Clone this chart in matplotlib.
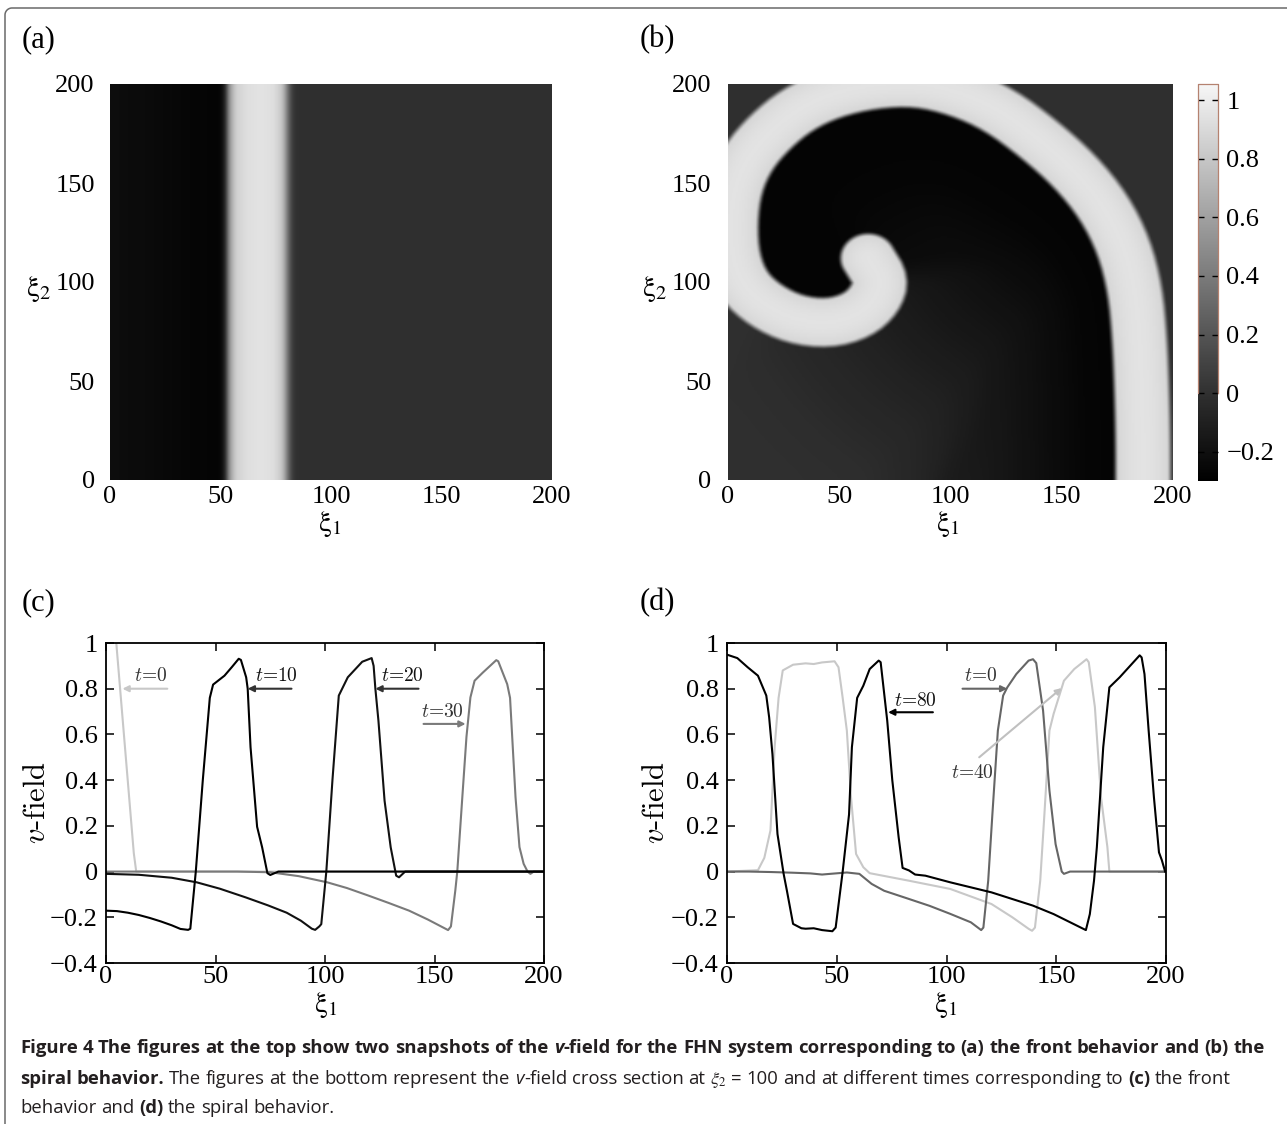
import numpy as np
import matplotlib
matplotlib.use("Agg")
import matplotlib.pyplot as plt
from matplotlib.colors import LinearSegmentedColormap, Normalize
from matplotlib.lines import Line2D
import matplotlib.transforms as mtransforms

# ------------------------------------------------------------------ data
# panel (a): v profile across xi1 (front is a straight vertical band)
a_xi1 = [0, 15, 30, 45, 50, 52, 54, 57, 62, 68, 74, 78, 80, 82, 84, 200]
a_v = [-0.21, -0.23, -0.25, -0.27, -0.27, -0.1, 0.55, 0.85, 0.93, 0.95, 0.93, 0.8, 0.45, 0.1, 0.0, 0.0]

# panel (b): centre line of the excited spiral band (tip -> outer arm)
b_xi1 = [63, 69, 66, 58, 45, 30, 17, 7, 2, 1, 3, 9, 19, 31, 46, 65, 85, 104, 122, 140,
         156, 169, 178, 183, 185, 186, 186.5, 186.5]
b_xi2 = [112, 101, 91, 83, 79, 81, 88, 98, 112, 130, 148, 163, 176, 187, 195, 200, 201,
         196, 187, 172, 156, 138, 118, 96, 72, 45, 20, -5]
# recovery length scale behind each part of the band
b_stretch = [3, 3, 3, 3, 3, 3, 3, 3, 3, 3, 3, 3, 3, 3, 3, 2.8, 2.6, 2.4, 2.2, 2.0,
             1.7, 1.4, 1.2, 1.0, 1.0, 1.0, 1.0, 1.0]
b_halfwidth = 12.3
b_peak = 0.95
# recovery of v behind the wave (distance behind band -> v)
rec_d = [0, 10, 25, 40, 55, 70, 85, 100, 115, 130]
rec_v = [-0.27, -0.27, -0.23, -0.19, -0.15, -0.11, -0.07, -0.04, -0.01, 0.0]

# panel (c): v-field cross sections, front behaviour
c_t0_x = [4.2, 4.7, 12.7, 13.8, 200]
c_t0_v = [1.06, 1.0, 0.08, 0.0, 0.0]
c_t10_x = [0, 5, 10, 15, 20, 25, 30, 34, 37.5, 38.5, 41, 44.2, 47.4, 48.9, 54.1, 57.5, 60.6,
           61.6, 64, 64.7, 66, 69, 71.3, 73.7, 75, 78.7, 200]
c_t10_v = [-0.171, -0.173, -0.18, -0.19, -0.203, -0.218, -0.235, -0.251, -0.255, -0.25, 0.0,
           0.4, 0.76, 0.818, 0.857, 0.895, 0.931, 0.926, 0.85, 0.8, 0.544, 0.196, 0.106,
           -0.007, -0.015, 0.0, 0.0]
c_t20_x = [0, 15, 30, 41.4, 52, 63.8, 74, 82.5, 89, 94, 95.5, 97.4, 98.3, 100.6, 103.4, 106.3,
           110.4, 117, 121.3, 122.2, 123, 124.4, 127.2, 130, 132.5, 133.8, 136.6, 200]
c_t20_v = [-0.01, -0.014, -0.027, -0.047, -0.075, -0.113, -0.148, -0.18, -0.215, -0.25, -0.255,
           -0.24, -0.23, 0.0, 0.4, 0.77, 0.85, 0.918, 0.934, 0.9, 0.8, 0.66, 0.31, 0.106,
           -0.018, -0.025, 0.0, 0.0]
c_t30_x = [0, 60, 75, 88, 101, 110, 119.8, 129, 138.4, 147, 156.2, 157.5, 159.5, 160.4, 162.7,
           164.6, 166.4, 168.3, 172, 178.2, 179.1, 183.2, 184.5, 187, 188.8, 190.7, 192.5,
           193.8, 195.3, 200]
c_t30_v = [0.0, 0.0, -0.003, -0.02, -0.047, -0.072, -0.105, -0.137, -0.171, -0.21, -0.256,
           -0.24, -0.083, 0.0, 0.325, 0.59, 0.762, 0.835, 0.87, 0.925, 0.92, 0.82, 0.76,
           0.325, 0.107, 0.034, 0.0, -0.01, 0.0, 0.0]

# panel (d): v-field cross sections, spiral behaviour
d_t80_x = [0, 4.7, 9.4, 14.1, 17.9, 19.2, 20.7, 23, 25.8, 27.3, 30.1, 33.9, 35.8, 39.5, 43.3,
           48, 49.5, 52.7, 55.6, 56.9, 59.3, 62.1, 65, 69.1, 70, 73, 75.3, 78.2, 80, 82.9,
           85.7, 90.4, 101.7, 120.5, 139.4, 148.8, 163.5, 165.3, 167.2, 168.5, 171.4, 174.2,
           178.9, 188, 188.9, 190.2, 192.1, 194.5, 196.8, 198.1, 199.6]
d_t80_v = [0.949, 0.934, 0.894, 0.857, 0.77, 0.675, 0.514, 0.164, -0.01, -0.084, -0.229,
           -0.248, -0.25, -0.248, -0.256, -0.261, -0.245, 0.0, 0.25, 0.544, 0.76, 0.813,
           0.886, 0.923, 0.916, 0.66, 0.40, 0.15, 0.016, 0.005, -0.013, -0.018, -0.047,
           -0.091, -0.149, -0.186, -0.256, -0.186, -0.04, 0.107, 0.544, 0.806, 0.85, 0.946,
           0.937, 0.864, 0.616, 0.325, 0.084, 0.05, 0.0]
d_t0_x = [0, 10, 20, 30, 38, 43.3, 47, 54.6, 60.3, 65.9, 71.6, 82, 92.3, 101.7, 111.1, 115.8,
          116.8, 119, 120.9, 123.4, 125.8, 127.7, 131.8, 137.4, 139.4, 140.9, 144, 146.9,
          149.7, 152.5, 153.5, 156.3, 200]
d_t0_v = [0.0, 0.0, -0.002, -0.005, -0.008, -0.013, -0.01, -0.004, -0.01, -0.054, -0.084,
          -0.117, -0.15, -0.185, -0.222, -0.256, -0.245, -0.04, 0.25, 0.617, 0.77, 0.806,
          0.864, 0.923, 0.929, 0.912, 0.704, 0.354, 0.12, 0.0, -0.01, 0.0, 0.0]
d_t40_x = [0, 14.1, 17, 19.8, 21.7, 23.5, 25.4, 30.1, 35.8, 39.5, 43.3, 49, 50.8, 52.7, 54.6,
           56.5, 58.8, 62.1, 65, 82.9, 101.7, 120.5, 130, 137.5, 139, 140.3, 142.7, 144.6,
           146.9, 148.8, 153.5, 158.2, 163.8, 164.8, 167.6, 170.4, 173.3, 174.2, 200]
d_t40_v = [0.0, 0.006, 0.06, 0.18, 0.544, 0.76, 0.88, 0.905, 0.911, 0.908, 0.915, 0.92,
           0.894, 0.76, 0.617, 0.325, 0.077, 0.019, -0.007, -0.04, -0.076, -0.142, -0.2,
           -0.251, -0.259, -0.245, -0.04, 0.25, 0.617, 0.69, 0.835, 0.886, 0.929, 0.916,
           0.72, 0.325, 0.107, 0.0, 0.0]

xy_ticks = [0, 50, 100, 150, 200]
v_ticks = [-0.4, -0.2, 0, 0.2, 0.4, 0.6, 0.8, 1]
v_ticklabels = ["\u22120.4", "\u22120.2", "0", "0.2", "0.4", "0.6", "0.8", "1"]
cb_ticks = [-0.2, 0, 0.2, 0.4, 0.6, 0.8, 1]
cb_ticklabels = ["\u22120.2", "0", "0.2", "0.4", "0.6", "0.8", "1"]
cb_range = (-0.3, 1.055)

# ------------------------------------------------------------------ setup
plt.rcParams["font.family"] = ["Liberation Serif", "DejaVu Serif"]
plt.rcParams["mathtext.fontset"] = "stix"
plt.rcParams["axes.unicode_minus"] = True

W, H = 1287, 1124
fig = plt.figure(figsize=(W / 100, H / 100), dpi=100)
fig.patch.set_facecolor("white")


def fx(px):
    return px / W


def fy(py):
    return 1 - py / H


def gblur(A, sig):
    r = int(3 * sig) + 1
    k = np.exp(-0.5 * (np.arange(-r, r + 1) / sig) ** 2)
    k /= k.sum()
    n0, n1 = A.shape
    P = np.pad(A, r, mode="edge")
    T = np.zeros((n0 + 2 * r, n1))
    for i, kv in enumerate(k):
        T += kv * P[:, i:i + n1]
    O = np.zeros((n0, n1))
    for i, kv in enumerate(k):
        O += kv * T[i:i + n0, :]
    return O


def chaikin(P, it=2):
    for _ in range(it):
        Q = [P[0]]
        for i in range(len(P) - 1):
            Q.append(0.75 * P[i] + 0.25 * P[i + 1])
            Q.append(0.25 * P[i] + 0.75 * P[i + 1])
        Q.append(P[-1])
        P = np.array(Q)
    return P


cmap = LinearSegmentedColormap.from_list(
    "vgray", [(0.0, "#000000"), (0.2214, "#303030"), (1.0, "#f6f6f6")])
norm = Normalize(vmin=cb_range[0], vmax=cb_range[1])

# ------------------------------------------------------------------ fields
n = 300
g = (np.arange(n) + 0.5) * 200.0 / n
upp = 200.0 / n  # units per pixel

# (a)
prof = np.interp(g, a_xi1, a_v)
field_a = gblur(np.tile(prof, (n, 1)), 0.8 / upp)

# (b)
X, Y = np.meshgrid(g, g)
Xf, Yf = X.ravel(), Y.ravel()
raw = np.column_stack([b_xi1, b_xi2, b_stretch, np.arange(len(b_xi1))]).astype(float)
sm = chaikin(raw, 2)
pts = sm[:, :2]
stv = sm[:, 2]
uix = sm[:, 3]
nseg = len(pts) - 1
seg_u = 0.5 * (uix[:-1] + uix[1:])
dmin = np.full(Xf.shape, np.inf)
side = np.zeros(Xf.shape)
segi = np.zeros(Xf.shape, int)
bp, bs, bu = [], [], []
for i in range(nseg):
    a = pts[i]
    b = pts[i + 1]
    dv = b - a
    L2 = dv @ dv
    L = np.sqrt(L2)
    t = ((Xf - a[0]) * dv[0] + (Yf - a[1]) * dv[1]) / L2
    tc = np.clip(t, 0, 1)
    dist = np.hypot(Xf - (a[0] + tc * dv[0]), Yf - (a[1] + tc * dv[1]))
    cr = dv[0] * (Yf - a[1]) - dv[1] * (Xf - a[0])
    upd = dist < dmin
    dmin = np.where(upd, dist, dmin)
    side = np.where(upd, cr, side)
    segi = np.where(upd, i, segi)
    nrm = np.array([dv[1], -dv[0]]) / L
    m = max(1, int(np.ceil(L)))
    for s in np.linspace(0, 1, m, endpoint=False):
        bp.append(a + s * dv + b_halfwidth * nrm)
        bs.append(stv[i] * (1 - s) + stv[i + 1] * s)
        bu.append(seg_u[i])
bp = np.array(bp)
bs = np.array(bs)
bu = np.array(bu)
masks = {"all": np.ones(len(bu), bool), "arm": bu >= 21, "out": bu >= 12, "in": bu <= 18}
N = Xf.size
deff = {k: np.empty(N) for k in masks}
CH = 3000
for c0 in range(0, N, CH):
    D = np.hypot(Xf[c0:c0 + CH, None] - bp[None, :, 0], Yf[c0:c0 + CH, None] - bp[None, :, 1])
    D = D / bs[None, :]
    for k, mk_ in masks.items():
        deff[k][c0:c0 + CH] = D[:, mk_].min(1)
rv = {k: np.interp(v, rec_d, rec_v) for k, v in deff.items()}
su = seg_u[segi]
back = side < 0
B = np.zeros(N)
B = np.where(back, np.where(su <= 5.5, rv["in"], np.where(su >= 18, rv["out"], rv["all"])), B)
tip_front = (~back) & (su < 1.0)
hook_front = (~back) & (su >= 1.0) & (su <= 5.5)
B = np.where(hook_front, rv["arm"], B)
B = np.where(tip_front, rv["out"], B)
B = gblur(B.reshape(n, n), 5.0 / upp)
dm = dmin.reshape(n, n)
alpha = np.clip((b_halfwidth + 1.6 - dm) / 3.2, 0, 1)
alpha = alpha * alpha * (3 - 2 * alpha)
vband = b_peak - 0.08 * np.clip(dm / b_halfwidth, 0, 1) ** 2
field_b = alpha * vband + (1 - alpha) * B

# ------------------------------------------------------------------ axes
ax_a = fig.add_axes([fx(110), fy(480), (552 - 110) / W, (480 - 84) / H])
ax_b = fig.add_axes([fx(728), fy(480), (1173 - 728) / W, (480 - 84) / H])
cax = fig.add_axes([fx(1198), fy(481), 20 / W, (481 - 84) / H])
ax_c = fig.add_axes([fx(106), fy(963), (544 - 106) / W, (963 - 643) / H])
ax_d = fig.add_axes([fx(727), fy(963), (1166 - 727) / W, (963 - 643) / H])

for ax, fld, ypad in [(ax_a, field_a, 11), (ax_b, field_b, 12)]:
    im = ax.imshow(fld, extent=[0, 200, 0, 200], origin="lower", cmap=cmap, norm=norm,
                   aspect="auto", interpolation="bilinear")
    ax.set_xlim(0, 200)
    ax.set_ylim(0, 200)
    ax.set_xticks(xy_ticks)
    ax.set_yticks(xy_ticks)
    ax.set_xticklabels([str(v) for v in xy_ticks])
    ax.set_yticklabels([str(v) for v in xy_ticks])
    for sp in ax.spines.values():
        sp.set_visible(False)
    ax.tick_params(axis="x", length=0, labelsize=19, pad=4)
    ax.tick_params(axis="y", length=0, labelsize=19, pad=ypad)
    im_last = im

cb = fig.colorbar(im_last, cax=cax, ticks=cb_ticks)
cb.ax.set_yticklabels(cb_ticklabels)
cb.outline.set_visible(False)
cax.tick_params(axis="y", which="both", direction="in", left=True, right=True, length=4,
                width=1, labelsize=19, pad=6, colors="black")
cax.minorticks_off()
btr = mtransforms.blended_transform_factory(cax.transAxes, cax.transData)
cax.add_line(Line2D([0, 0, 1, 1], [0, cb_range[1], cb_range[1], 0], transform=btr,
                    color="#b58270", lw=0.9, clip_on=False))

series_c = [(c_t0_x, c_t0_v, "#c8c8c8"), (c_t30_x, c_t30_v, "#7a7a7a"),
            (c_t20_x, c_t20_v, "#111111"), (c_t10_x, c_t10_v, "#000000")]
series_d = [(d_t40_x, d_t40_v, "#c8c8c8"), (d_t0_x, d_t0_v, "#666666"),
            (d_t80_x, d_t80_v, "#000000")]
for ax, series in [(ax_c, series_c), (ax_d, series_d)]:
    for xs, vs, col in series:
        ax.plot(xs, vs, color=col, lw=1.5)
    ax.set_xlim(0, 200)
    ax.set_ylim(-0.4, 1.0)
    ax.set_xticks(xy_ticks)
    ax.set_xticklabels([str(v) for v in xy_ticks])
    ax.set_yticks(v_ticks)
    ax.set_yticklabels(v_ticklabels)
    ax.tick_params(direction="in", top=True, right=True, length=6, width=1.1,
                   labelsize=19)
    ax.tick_params(axis="x", pad=2)
    ax.tick_params(axis="y", pad=6)
    for sp in ax.spines.values():
        sp.set_linewidth(1.3)


def tag(ax, label, tx, tv, tail, head, acol, tcol):
    ax.annotate("", xy=head, xytext=tail,
                arrowprops=dict(arrowstyle="-|>", color=acol, lw=1.5, mutation_scale=9,
                                shrinkA=0, shrinkB=0))
    ax.text(tx, tv, label, ha="center", va="center", fontsize=14, color=tcol,
            family="cmr10", math_fontfamily="cm")


tag(ax_c, r"$t$=0", 20.5, 0.855, (28, 0.8), (7.5, 0.8), "#c8c8c8", "#333333")
tag(ax_c, r"$t$=10", 78.0, 0.855, (84.7, 0.8), (64.7, 0.8), "#333333", "#111111")
tag(ax_c, r"$t$=20", 135.5, 0.855, (142.7, 0.8), (123.0, 0.8), "#333333", "#111111")
tag(ax_c, r"$t$=30", 153.5, 0.70, (145.0, 0.646), (164.2, 0.646), "#7a7a7a", "#333333")
tag(ax_d, r"$t$=80", 85.8, 0.745, (93.8, 0.697), (73.4, 0.697), "#000000", "#111111")
tag(ax_d, r"$t$=0", 115.5, 0.855, (107.3, 0.8), (127.7, 0.8), "#666666", "#333333")
tag(ax_d, r"$t$=40", 111.8, 0.43, (114.9, 0.5), (152.5, 0.803), "#c0c0c0", "#333333")

# ------------------------------------------------------------------ labels
for lab, x, y in [("(a)", 22, 40), ("(b)", 640, 40), ("(c)", 22, 603), ("(d)", 640, 603)]:
    fig.text(fx(x), fy(y), lab, fontsize=22, ha="left", va="center")

xi1 = r"$\mathrm{\xi}_1$"
xi2 = r"$\mathrm{\xi}_2$"
for x, y in [(330, 524), (948, 524), (326, 1005), (946, 1005)]:
    fig.text(fx(x), fy(y), xi1, fontsize=21, ha="center", va="center")
for x, y in [(38, 289), (654, 289)]:
    fig.text(fx(x), fy(y), xi2, fontsize=21, ha="center", va="center")
for x, y in [(37, 803), (656, 803)]:
    fig.text(fx(x), fy(y), r"$v$-field", fontsize=22, ha="center", va="center",
             rotation=90, family="cmr10", math_fontfamily="cm")

# ------------------------------------------------------------------ frame
r = 7.0
th = np.linspace(np.pi, np.pi / 2, 20)
fxs = [5, 5] + list(5 + r + r * np.cos(th)) + [1300]
fys = [1130, 8 + r] + list(8 + r - r * np.sin(th)) + [8]
fig.add_artist(Line2D([fx(v) for v in fxs], [fy(v) for v in fys], transform=fig.transFigure,
                      color="#6a6a6a", lw=1.1))

# ------------------------------------------------------------------ caption
CAP_FONT = ["Liberation Sans Narrow", "Open Sans", "DejaVu Sans"]
CAP_COL = "#231f20"
renderer = fig.canvas.get_renderer()


def words(s, bold=False, ital=False):
    return [(w, bold, ital, False) for w in s.split()]


line1 = (words("Figure 4 The figures at the top show two snapshots of the", True)
         + [("v", True, True, False), ("-field", True, False, True)]
         + words("for the FHN system corresponding to (a) the front behavior and (b) the", True))
line2 = (words("spiral behavior.", True)
         + words("The figures at the bottom represent the")
         + [("v", False, True, False), ("-field", False, False, True)]
         + words("cross section at") + [(r"$\xi_2$", False, False, False)]
         + words("= 100 and at different times corresponding to")
         + [("(c)", True, False, False)] + words("the front"))
line3 = words("behavior and") + [("(d)", True, False, False)] + words("the spiral behavior.")


def mk(txt, bold, ital, size, x, y):
    return fig.text(fx(x), fy(y), txt, fontsize=size, family=CAP_FONT,
                    fontweight="bold" if bold else "normal",
                    fontstyle="italic" if ital else "normal",
                    math_fontfamily="stix", color=CAP_COL, ha="left", va="baseline")


def width_of(txt, bold, size):
    t = mk(txt, bold, False, size, 0, 0)
    w = t.get_window_extent(renderer).width
    t.remove()
    return w


def layout(runs, x0, y, size):
    sp = {b: width_of("n n", b, size) - width_of("nn", b, size) for b in (True, False)}
    x = x0
    made = []
    for k, (txt, bold, ital, join) in enumerate(runs):
        if k > 0 and not join:
            x += sp[bold]
        t = mk(txt, bold, ital, size, x, y)
        x += t.get_window_extent(renderer).width
        made.append(t)
    return x, made


s0 = 16.0
xe, made = layout(line1, 20, 1053, s0)
for t in made:
    t.remove()
size = s0 * (1262 - 20) / (xe - 20)
layout(line1, 20, 1053, size)
layout(line2, 20, 1084, size)
layout(line3, 20, 1113, size)

fig.savefig("out.png", dpi=100, facecolor="white")
